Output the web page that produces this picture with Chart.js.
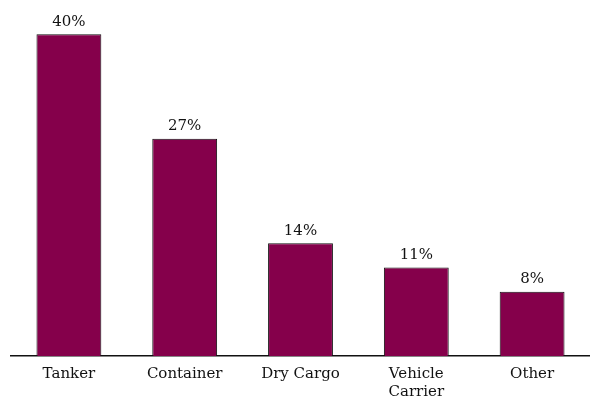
<!DOCTYPE html>
<html>
<head>
<meta charset="utf-8">
<script src="https://cdn.jsdelivr.net/npm/chart.js@4/dist/chart.umd.min.js"></script>
<style>
  html, body { margin: 0; padding: 0; background: #fff; }
  #wrap { width: 590px; height: 398px; position: relative; }
</style>
</head>
<body>
<div id="wrap"><canvas id="c"></canvas></div>
<script>
const categories = ['Tanker', 'Container', 'Dry Cargo', ['Vehicle', 'Carrier'], 'Other'];
const shares = [40, 27, 14, 11, 8];

// labels above each bar
const valueLabels = {
  id: 'valueLabels',
  afterDatasetsDraw(chart) {
    const ctx = chart.ctx;
    const meta = chart.getDatasetMeta(0);
    ctx.save();
    ctx.font = '15px "DejaVu Serif", serif';
    ctx.fillStyle = '#111';
    ctx.textAlign = 'center';
    ctx.textBaseline = 'bottom';
    meta.data.forEach((bar, i) => {
      ctx.fillText(shares[i] + '%', bar.x, bar.y - 5);
    });
    ctx.restore();
  }
};

new Chart(document.getElementById('c'), {
  type: 'bar',
  data: {
    labels: categories,
    datasets: [{
      data: shares,
      backgroundColor: '#85004B',
      borderColor: '#111',
      borderWidth: 1,
      barPercentage: 0.56,
      categoryPercentage: 1
    }]
  },
  options: {
    responsive: true,
    maintainAspectRatio: false,
    animation: false,
    layout: { padding: { left: 11, right: 0, top: 2, bottom: 0 } },
    plugins: { legend: { display: false }, tooltip: { enabled: false } },
    scales: {
      x: {
        afterFit(scale) { scale.height = 42; },
        grid: { display: false, drawTicks: false },
        border: { display: true, color: '#111', width: 1.5 },
        ticks: { color: '#111', padding: 9, font: { family: '"DejaVu Serif", serif', size: 15, lineHeight: 1.2 } }
      },
      y: { display: false, min: 0, max: 44 }
    }
  },
  plugins: [valueLabels]
});
</script>
</body>
</html>
